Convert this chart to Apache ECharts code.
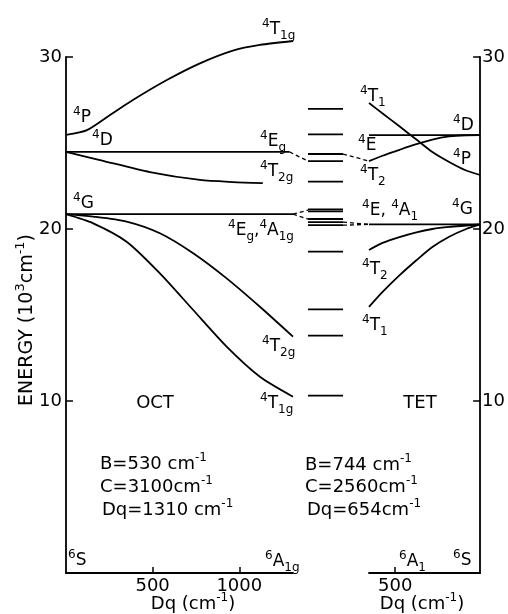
<!DOCTYPE html>
<html>
<head>
<meta charset="utf-8">
<script src="https://cdn.jsdelivr.net/npm/echarts@6/dist/echarts.min.js"></script>
<style>
  html, body { margin: 0; padding: 0; background: #fff; }
  #c { width: 508px; height: 614px; }
</style>
</head>
<body>
<div id="c"></div>
<script>
// ---- Octahedral levels (Dq in cm^-1, energy in 10^3 cm^-1) ----
const octDqT1gUp = [0, 121, 254, 386, 582, 773, 963, 1119, 1310];
const octE_T1gUp = [25.47, 25.75, 26.63, 27.50, 28.66, 29.63, 30.37, 30.70, 30.93];
const octDqEg = [0, 1290];
const octE_Eg = [24.48, 24.48];
const octDqT2gUp = [0, 196, 484, 773, 963, 1136];
const octE_T2gUp = [24.48, 24.01, 23.31, 22.85, 22.73, 22.67];
const octDqEA1g = [0, 1310];
const octE_EA1g = [20.86, 20.86];
const octDqLow = [0, 157, 350, 542, 734, 927, 1119, 1310];
const octE_T2gLow = [20.86, 20.72, 20.43, 19.75, 18.59, 17.13, 15.48, 13.74];
const octE_T1gLow = [20.86, 20.33, 19.26, 17.42, 15.29, 13.16, 11.41, 10.25];

// ---- Tetrahedral levels ----
const tetDq = [654, 574, 475, 375, 281, 182, 82, 0];
const tetE_T1Up = [27.33, 26.72, 25.97, 25.20, 24.48, 23.90, 23.40, 23.14];
const tetE_T2Up = [23.95, 24.26, 24.60, 24.93, 25.20, 25.38, 25.45, 25.46];
const tetE_T2Low = [18.78, 19.19, 19.53, 19.81, 20.00, 20.12, 20.20, 20.27];
const tetE_T1Low = [15.47, 16.34, 17.30, 18.18, 18.95, 19.55, 20.00, 20.27];
const tetDqFlat = [654, 0];
const tetE_E = [25.46, 25.46];
const tetE_EA1 = [20.27, 20.27];

// ---- Observed band positions (middle column) ----
const observedE = [26.98, 25.50, 24.36, 23.95, 22.75, 21.14, 21.02, 20.58, 20.40, 20.22, 18.68, 15.33, 13.80, 10.31];

// ---- Tick labels ----
const energyTicks = [10, 20, 30];
const octDqTicks = [500, 1000];
const tetDqTicks = [500];

const FONT = 'DejaVu Sans';
const zip = (xs, ys) => xs.map((x, i) => [x, ys[i]]);

const chart = echarts.init(document.getElementById('c'), null, { renderer: 'canvas' });

const axisLine = { show: true, onZero: false, lineStyle: { color: '#000', width: 1.8 } };
const tickStyle = { color: '#000', width: 1.5 };
const labelStyle = { color: '#000', fontSize: 18, fontFamily: FONT, formatter: v => String(v) };

function curve(xi, data) {
  return {
    type: 'line', xAxisIndex: xi, yAxisIndex: xi, data: data,
    showSymbol: false, smooth: 0.25, clip: false, silent: true,
    lineStyle: { color: '#000', width: 1.8 }
  };
}

const option = {
  animation: false,
  backgroundColor: '#fff',
  grid: [
    { left: 66, top: 57, width: 227, height: 516 },
    { left: 308, top: 57, width: 35, height: 516 },
    { left: 369, top: 57, width: 112, height: 516 }
  ],
  xAxis: [
    {
      gridIndex: 0, type: 'value', min: 0, max: 1310,
      axisLine: axisLine,
      axisTick: { inside: true, length: 6, customValues: octDqTicks, lineStyle: tickStyle },
      axisLabel: Object.assign({ customValues: octDqTicks, margin: 4 }, labelStyle),
      splitLine: { show: false }
    },
    { gridIndex: 1, type: 'value', min: 0, max: 1, show: false },
    {
      gridIndex: 2, type: 'value', min: 0, max: 654, inverse: true,
      axisLine: axisLine,
      axisTick: { inside: true, length: 6, customValues: tetDqTicks, lineStyle: tickStyle },
      axisLabel: Object.assign({ customValues: tetDqTicks, margin: 4 }, labelStyle),
      splitLine: { show: false }
    }
  ],
  yAxis: [
    {
      gridIndex: 0, type: 'value', min: 0, max: 30, interval: 10,
      axisLine: axisLine,
      axisTick: { inside: true, length: 7, customValues: energyTicks, lineStyle: tickStyle },
      axisLabel: Object.assign({ customValues: energyTicks, margin: 4 }, labelStyle),
      splitLine: { show: false }
    },
    { gridIndex: 1, type: 'value', min: 0, max: 30, show: false },
    {
      gridIndex: 2, type: 'value', min: 0, max: 30, interval: 10, position: 'right',
      axisLine: axisLine,
      axisTick: { inside: true, length: 7, customValues: energyTicks, lineStyle: tickStyle },
      axisLabel: Object.assign({ customValues: energyTicks, margin: 2 }, labelStyle),
      splitLine: { show: false }
    }
  ],
  series: [
    curve(0, zip(octDqT1gUp, octE_T1gUp)),
    curve(0, zip(octDqEg, octE_Eg)),
    curve(0, zip(octDqT2gUp, octE_T2gUp)),
    curve(0, zip(octDqEA1g, octE_EA1g)),
    curve(0, zip(octDqLow, octE_T2gLow)),
    curve(0, zip(octDqLow, octE_T1gLow)),
    curve(2, zip(tetDq, tetE_T1Up)),
    curve(2, zip(tetDq, tetE_T2Up)),
    curve(2, zip(tetDq, tetE_T2Low)),
    curve(2, zip(tetDq, tetE_T1Low)),
    curve(2, zip(tetDqFlat, tetE_E)),
    curve(2, zip(tetDqFlat, tetE_EA1)),
    {
      type: 'custom', xAxisIndex: 1, yAxisIndex: 1, silent: true,
      data: observedE.map(e => [0, e]),
      renderItem: function (params, api) {
        const e = api.value(1);
        const a = api.coord([0, e]);
        const b = api.coord([1, e]);
        return {
          type: 'line',
          shape: { x1: a[0], y1: a[1], x2: b[0], y2: b[1] },
          style: { stroke: '#000', lineWidth: 1.8 }
        };
      }
    }
  ]
};
chart.setOption(option);

// ---- Text annotations ----
const rich = {
  n: { fontSize: 17, fontFamily: FONT, color: '#000', lineHeight: 24, verticalAlign: 'middle' },
  sp: { fontSize: 12, fontFamily: FONT, color: '#000', lineHeight: 12, verticalAlign: 'top' },
  sb: { fontSize: 12, fontFamily: FONT, color: '#000', lineHeight: 12, verticalAlign: 'bottom' },
  p: { fontSize: 18, fontFamily: FONT, color: '#000', lineHeight: 24, verticalAlign: 'middle' },
  big: { fontSize: 19, fontFamily: FONT, color: '#000', lineHeight: 26, verticalAlign: 'middle' },
  bsp: { fontSize: 13, fontFamily: FONT, color: '#000', lineHeight: 13, verticalAlign: 'top' }
};
function term(sup, main, sub) {
  return '{sp|' + sup + '}{n|' + main + '}' + (sub ? '{sb|' + sub + '}' : '');
}
function txt(x, y, text, align, rot) {
  return {
    type: 'text', x: x, y: y, rotation: rot || 0, silent: true,
    style: { text: text, rich: rich, align: align || 'left', verticalAlign: 'middle' }
  };
}

const labels = [
  // octahedral side
  txt(73, 118, term('4', 'P')),
  txt(92, 141, term('4', 'D')),
  txt(73, 204, term('4', 'G')),
  txt(262, 30, term('4', 'T', '1g')),
  txt(260, 142, term('4', 'E', 'g')),
  txt(260, 172, term('4', 'T', '2g')),
  txt(228, 231, term('4', 'E', 'g') + '{n|,}' + term('4', 'A', '1g')),
  txt(262, 347, term('4', 'T', '2g')),
  txt(260, 404, term('4', 'T', '1g')),
  txt(155, 403, '{p|OCT}', 'center'),
  txt(68, 561, term('6', 'S')),
  txt(265, 562, term('6', 'A', '1g')),
  // tetrahedral side
  txt(360, 97, term('4', 'T', '1')),
  txt(358, 146, term('4', 'E')),
  txt(360, 176, term('4', 'T', '2')),
  txt(453, 126, term('4', 'D')),
  txt(453, 160, term('4', 'P')),
  txt(362, 211, term('4', 'E') + '{n|, }' + term('4', 'A', '1')),
  txt(452, 210, term('4', 'G')),
  txt(362, 270, term('4', 'T', '2')),
  txt(362, 326, term('4', 'T', '1')),
  txt(420, 403, '{p|TET}', 'center'),
  txt(399, 562, term('6', 'A', '1')),
  txt(453, 561, term('6', 'S')),
  // crystal-field parameters
  txt(100, 464, '{p|B=530 cm}{sp|-1}'),
  txt(100, 487, '{p|C=3100cm}{sp|-1}'),
  txt(102, 510, '{p|Dq=1310 cm}{sp|-1}'),
  txt(305, 465, '{p|B=744 cm}{sp|-1}'),
  txt(305, 487, '{p|C=2560cm}{sp|-1}'),
  txt(307, 510, '{p|Dq=654cm}{sp|-1}'),
  // axis titles
  txt(193, 604, '{p|Dq (cm}{sp|-1}{p|)}', 'center'),
  txt(422, 604, '{p|Dq (cm}{sp|-1}{p|)}', 'center'),
  txt(27, 320, '{big|ENERGY (10}{bsp|3}{big|cm}{bsp|-1}{big|)}', 'center', Math.PI / 2)
];

// ---- Dashed correlation lines between calculated and observed levels ----
const px = (g, p) => chart.convertToPixel({ gridIndex: g }, p);
function dash(a, b) {
  return {
    type: 'line', silent: true,
    shape: { x1: a[0], y1: a[1], x2: b[0], y2: b[1] },
    style: { stroke: '#000', lineWidth: 1.3, lineDash: [4, 3] }
  };
}
const links = [
  dash(px(0, [1290, 24.48]), px(1, [0, 23.95])),
  dash(px(1, [1, 24.36]), px(2, [654, 23.95])),
  dash(px(0, [1310, 20.86]), px(1, [0, 21.10])),
  dash(px(0, [1310, 20.86]), px(1, [0, 20.58])),
  dash(px(1, [1, 20.40]), px(2, [654, 20.27])),
  dash(px(1, [1, 20.22]), px(2, [654, 20.27]))
];

chart.setOption({ graphic: { elements: labels.concat(links) } });
</script>
</body>
</html>
